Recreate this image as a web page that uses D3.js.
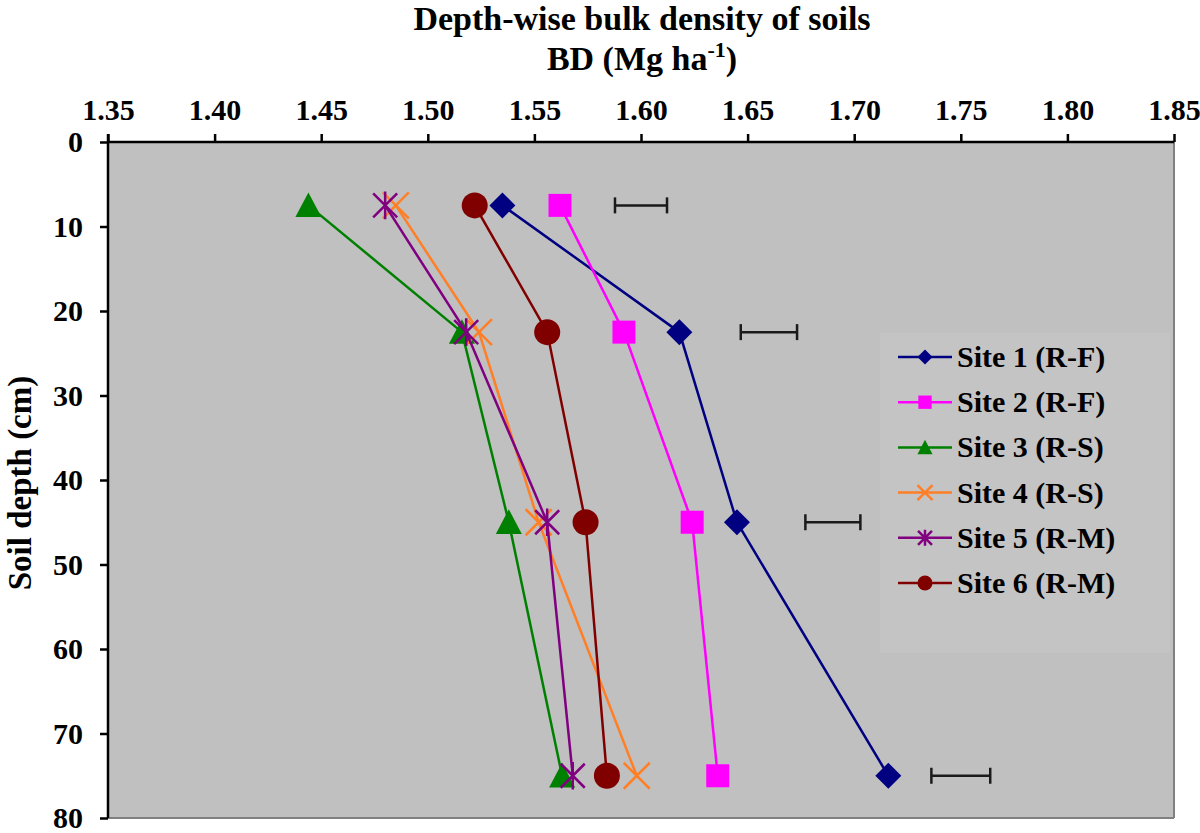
<!DOCTYPE html>
<html>
<head>
<meta charset="utf-8">
<script src="https://cdn.jsdelivr.net/npm/d3@7"></script>
<style>
  html, body { margin: 0; padding: 0; background: #fff; }
  svg { display: block; font-family: "Liberation Serif", "Times New Roman", serif; font-weight: bold; }
</style>
</head>
<body>
<svg id="chart" width="1200" height="833"></svg>
<script>
// ---- data ----
const depths = [7.5, 22.5, 45, 75];
const seriesNames = ["Site 1 (R-F)", "Site 2 (R-F)", "Site 3 (R-S)", "Site 4 (R-S)", "Site 5 (R-M)", "Site 6 (R-M)"];
const site1 = [1.535, 1.618, 1.645, 1.716];
const site2 = [1.562, 1.592, 1.624, 1.636];
const site3 = [1.444, 1.516, 1.538, 1.563];
const site4 = [1.485, 1.524, 1.552, 1.598];
const site5 = [1.480, 1.518, 1.556, 1.568];
const site6 = [1.522, 1.556, 1.574, 1.584];
const errCenters = [1.600, 1.660, 1.690, 1.750];
const errHalf = [0.0122, 0.0132, 0.0129, 0.0138];
const xTicks = [1.35, 1.40, 1.45, 1.50, 1.55, 1.60, 1.65, 1.70, 1.75, 1.80, 1.85];
const yTicks = [0, 10, 20, 30, 40, 50, 60, 70, 80];
const colors = ["#000080", "#ff00ff", "#008000", "#ff7f27", "#800080", "#800000"];
const shapes = ["diamond", "square", "triangle", "x", "star", "circle"];

const allSeries = [site1, site2, site3, site4, site5, site6];

// ---- layout ----
const svg = d3.select("#chart");
const L = 108, R = 1174, T = 142, B = 818;
const x = d3.scaleLinear().domain([1.35, 1.85]).range([L, R]);
const y = d3.scaleLinear().domain([0, 80]).range([T, B]);

// plot background
svg.append("rect").attr("x", L).attr("y", T).attr("width", R - L).attr("height", B - T).attr("fill", "#c0c0c0");
// legend background (subtle)
svg.append("rect").attr("x", 880).attr("y", 333).attr("width", 290).attr("height", 320).attr("fill", "#c4c4c4");

// right & bottom borders
svg.append("line").attr("x1", R).attr("x2", R).attr("y1", T).attr("y2", B).attr("stroke", "#808080").attr("stroke-width", 2);
svg.append("line").attr("x1", L).attr("x2", R).attr("y1", B).attr("y2", B).attr("stroke", "#808080").attr("stroke-width", 2);

// axes
const xAxis = d3.axisTop(x).tickValues(xTicks).tickFormat(d3.format(".2f")).tickSize(8).tickPadding(14);
const gx = svg.append("g").attr("transform", `translate(0,${T})`).call(xAxis);
gx.select(".domain").attr("stroke", "#000").attr("stroke-width", 2.5).attr("d", `M${L},0H${R}`);
gx.selectAll(".tick line").attr("stroke", "#000").attr("stroke-width", 2.5);
gx.selectAll(".tick text").attr("fill", "#000").style("font-size", "30px").style("font-family", "Liberation Serif, serif").style("font-weight", "bold");

const yAxis = d3.axisLeft(y).tickValues(yTicks).tickFormat(d3.format("d")).tickSize(8).tickPadding(17);
const gy = svg.append("g").attr("transform", `translate(${L},0)`).call(yAxis);
gy.select(".domain").attr("stroke", "#000").attr("stroke-width", 2.5).attr("d", `M0,${T - 8}V${B}`);
gy.selectAll(".tick line").attr("stroke", "#000").attr("stroke-width", 2.5);
gy.selectAll(".tick text").attr("fill", "#000").style("font-size", "30px").style("font-family", "Liberation Serif, serif").style("font-weight", "bold");

// titles
svg.append("text").attr("x", 642).attr("y", 30).attr("text-anchor", "middle").style("font-size", "34px").text("Depth-wise bulk density of soils");
const t2 = svg.append("text").attr("x", 642).attr("y", 70).attr("text-anchor", "middle").style("font-size", "34px");
t2.append("tspan").text("BD (Mg ha");
t2.append("tspan").attr("dy", -13).style("font-size", "22px").text("-1");
t2.append("tspan").attr("dy", 13).text(")");

svg.append("text").attr("transform", "translate(31,483) rotate(-90)").attr("text-anchor", "middle").style("font-size", "33px").text("Soil depth (cm)");

// error bars
const eb = svg.append("g").attr("stroke", "#1a1a1a").attr("stroke-width", 2.5);
depths.forEach((d, i) => {
  const x0 = x(errCenters[i] - errHalf[i]), x1 = x(errCenters[i] + errHalf[i]), yy = y(d);
  eb.append("line").attr("x1", x0).attr("x2", x1).attr("y1", yy).attr("y2", yy);
  eb.append("line").attr("x1", x0).attr("x2", x0).attr("y1", yy - 8).attr("y2", yy + 8);
  eb.append("line").attr("x1", x1).attr("x2", x1).attr("y1", yy - 8).attr("y2", yy + 8);
});

// marker drawing
function drawMarker(g, shape, color, cx, cy, s) {
  if (shape === "diamond") {
    const h = 13 * s;
    g.append("path").attr("d", `M${cx},${cy - h}L${cx + h},${cy}L${cx},${cy + h}L${cx - h},${cy}Z`).attr("fill", color);
  } else if (shape === "square") {
    const h = 11.5 * s;
    g.append("rect").attr("x", cx - h).attr("y", cy - h).attr("width", 2 * h).attr("height", 2 * h).attr("fill", color);
  } else if (shape === "triangle") {
    const w = 13 * s, h = 13 * s;
    g.append("path").attr("d", `M${cx},${cy - h}L${cx + w},${cy + h * 0.9}L${cx - w},${cy + h * 0.9}Z`).attr("fill", color);
  } else if (shape === "x") {
    const h = 13 * s;
    g.append("path").attr("d", `M${cx - h},${cy - h}L${cx + h},${cy + h}M${cx - h},${cy + h}L${cx + h},${cy - h}`).attr("stroke", color).attr("stroke-width", 2.5).attr("fill", "none");
  } else if (shape === "star") {
    const h = 12 * s;
    g.append("path").attr("d", `M${cx - h},${cy - h}L${cx + h},${cy + h}M${cx - h},${cy + h}L${cx + h},${cy - h}M${cx},${cy - h * 1.15}L${cx},${cy + h * 1.15}`).attr("stroke", color).attr("stroke-width", 2.5).attr("fill", "none");
  } else if (shape === "circle") {
    g.append("circle").attr("cx", cx).attr("cy", cy).attr("r", 13 * s).attr("fill", color);
  }
}

const line = d3.line().x(d => x(d[0])).y(d => y(d[1]));
const order = [2, 3, 4, 5, 0, 1];
order.forEach(i => {
  const pts = allSeries[i].map((v, j) => [v, depths[j]]);
  const g = svg.append("g");
  g.append("path").attr("d", line(pts)).attr("fill", "none").attr("stroke", colors[i]).attr("stroke-width", 2.5);
  pts.forEach(p => drawMarker(g, shapes[i], colors[i], x(p[0]), y(p[1]), 1));
});

// legend
const lg = svg.append("g");
seriesNames.forEach((name, i) => {
  const yy = 357 + i * 45.2;
  lg.append("line").attr("x1", 898).attr("x2", 952).attr("y1", yy).attr("y2", yy).attr("stroke", colors[i]).attr("stroke-width", 2.5);
  drawMarker(lg, shapes[i], colors[i], 925, yy, 0.58);
  lg.append("text").attr("x", 957).attr("y", yy + 10).style("font-size", "30px").text(name);
});
</script>
</body>
</html>
